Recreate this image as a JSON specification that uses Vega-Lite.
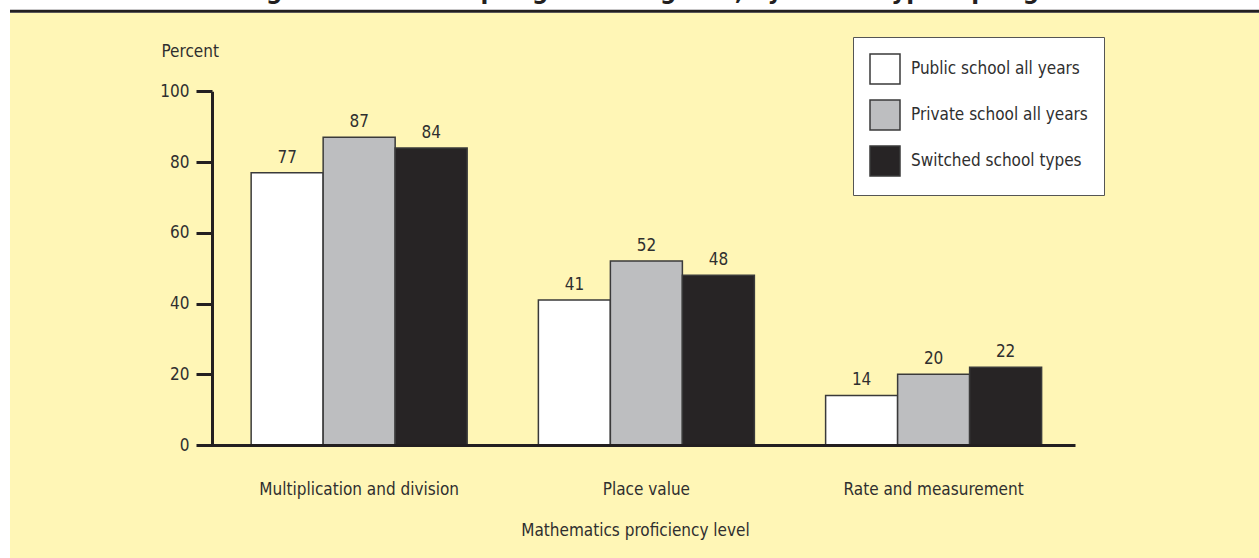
{
  "$schema": "https://vega.github.io/schema/vega-lite/v6.json",
  "width": 1249,
  "height": 545,
  "autosize": {"type": "none"},
  "padding": {"left": 10, "top": 13, "right": 0, "bottom": 0},
  "background": "#FFFFFF",
  "config": {
    "font": "DejaVu Sans Condensed",
    "view": {"fill": "#FFF6B6", "stroke": null}
  },
  "title": {
    "text": "knowledge and skills in spring of third grade, by school type: Spring 2002",
    "anchor": "middle",
    "frame": "group",
    "fontSize": 25.3,
    "fontWeight": "bold",
    "font": "DejaVu Sans Condensed",
    "color": "#231F20",
    "baseline": "alphabetic",
    "offset": 0,
    "dx": 0,
    "dy": 14
  },
  "resolve": {"scale": {"y": "independent"}},
  "layer": [
    {
      "data": {"values": [{"edge": "top"}]},
      "mark": {"type": "rule", "color": "#231F20", "strokeWidth": 3},
      "encoding": {
        "y": {
          "datum": 122.6,
          "type": "quantitative",
          "scale": {"domain": [0, 100], "range": [432, 78.3], "nice": false},
          "axis": null
        }
      }
    },
    {
      "data": {
        "values": [
          {"level": "Multiplication and division", "type": "Public school all years", "value": 77},
          {"level": "Multiplication and division", "type": "Private school all years", "value": 87},
          {"level": "Multiplication and division", "type": "Switched school types", "value": 84},
          {"level": "Place value", "type": "Public school all years", "value": 41},
          {"level": "Place value", "type": "Private school all years", "value": 52},
          {"level": "Place value", "type": "Switched school types", "value": 48},
          {"level": "Rate and measurement", "type": "Public school all years", "value": 14},
          {"level": "Rate and measurement", "type": "Private school all years", "value": 20},
          {"level": "Rate and measurement", "type": "Switched school types", "value": 22}
        ]
      },
      "encoding": {
        "x": {
          "field": "level",
          "type": "nominal",
          "sort": ["Multiplication and division", "Place value", "Rate and measurement"],
          "scale": {"range": [201, 1065], "paddingInner": 0.248, "paddingOuter": 0.128, "align": 0.546},
          "axis": {
            "title": "Mathematics proficiency level",
            "orient": "bottom",
            "offset": -113,
            "zindex": 1,
            "ticks": false,
            "tickSize": 0,
            "domainColor": "#231F20",
            "domainWidth": 3,
            "labelAngle": 0,
            "labelLimit": 0,
            "labelFontSize": 17,
            "labelColor": "#2f2f2f",
            "labelBaseline": "alphabetic",
            "labelPadding": 49,
            "titleFontSize": 17,
            "titleFontWeight": "normal",
            "titleColor": "#2f2f2f",
            "titleBaseline": "alphabetic",
            "titleAlign": "center",
            "titleX": 625,
            "titleY": 90.5
          }
        },
        "xOffset": {
          "field": "type",
          "type": "nominal",
          "sort": ["Public school all years", "Private school all years", "Switched school types"],
          "scale": {"paddingInner": 0, "paddingOuter": 0}
        },
        "y": {
          "field": "value",
          "type": "quantitative",
          "scale": {"domain": [0, 100], "range": [432, 78.3], "nice": false},
          "axis": {
            "title": "Percent",
            "titleAngle": 0,
            "titleAlign": "left",
            "titleBaseline": "alphabetic",
            "titleX": -51,
            "titleY": 43.7,
            "titleFontSize": 17,
            "titleFontWeight": "normal",
            "titleColor": "#2f2f2f",
            "values": [0, 20, 40, 60, 80, 100],
            "offset": -202,
            "zindex": 1,
            "grid": false,
            "domainColor": "#231F20",
            "domainWidth": 3,
            "tickColor": "#231F20",
            "tickWidth": 3,
            "tickSize": 16,
            "labelFontSize": 17,
            "labelColor": "#2f2f2f",
            "labelPadding": 7
          }
        }
      },
      "layer": [
        {
          "mark": {"type": "bar", "stroke": "#3a3a3a", "strokeWidth": 1.5},
          "encoding": {
            "color": {
              "field": "type",
              "type": "nominal",
              "scale": {
                "domain": ["Public school all years", "Private school all years", "Switched school types"],
                "range": ["#FFFFFF", "#BDBEC0", "#272425"]
              },
              "legend": {
                "title": null,
                "orient": "none",
                "legendX": 843,
                "legendY": 24,
                "padding": 16,
                "fillColor": "#FFFFFF",
                "strokeColor": "#555555",
                "symbolType": "square",
                "symbolSize": 900,
                "symbolStrokeColor": "#3a3a3a",
                "symbolStrokeWidth": 1.5,
                "symbolOpacity": 1,
                "rowPadding": 10,
                "labelFontSize": 17,
                "labelOffset": 10,
                "labelColor": "#2f2f2f",
                "labelLimit": 0
              }
            }
          }
        },
        {
          "mark": {"type": "text", "baseline": "alphabetic", "dy": -10, "fontSize": 17, "color": "#2f2f2f"},
          "encoding": {"text": {"field": "value", "type": "quantitative"}}
        }
      ]
    }
  ]
}
